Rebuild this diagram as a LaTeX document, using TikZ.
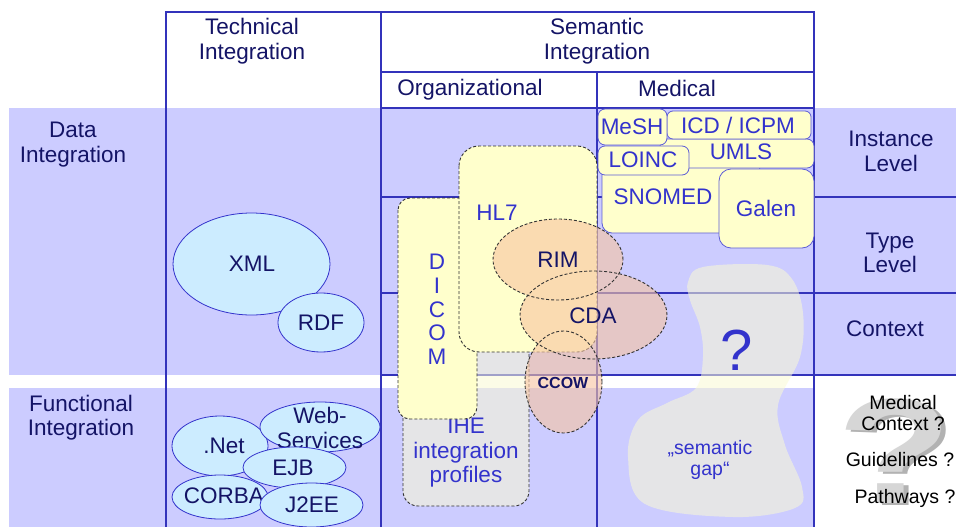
\documentclass[tikz,border=0pt]{standalone}
\usepackage{fontspec}
\setmainfont{Liberation Sans}
\usetikzlibrary{shapes.geometric}
\definecolor{bandblue}{RGB}{204,204,255}
\definecolor{gridblue}{RGB}{51,51,187}
\definecolor{navy}{RGB}{20,20,102}
\definecolor{lblue}{RGB}{51,51,204}
\definecolor{cyanfill}{RGB}{204,236,255}
\definecolor{yfill}{RGB}{255,255,204}
\definecolor{ofill}{RGB}{247,196,160}
\definecolor{gapfill}{RGB}{251,251,213}
\definecolor{dashcol}{RGB}{50,50,50}
\definecolor{qgray}{RGB}{214,214,214}
\definecolor{qshade}{RGB}{178,178,178}
\begin{document}
\begin{tikzpicture}[x=1pt,y=-1pt,
  gridline/.style={gridblue, line width=1.1pt},
  big/.style={font=\fontsize{22.5}{24.5}\selectfont, align=center, inner sep=0pt},
  hdr/.style={big, text=navy},
  lbl/.style={big, text=lblue},
  techell/.style={draw=lblue, fill=cyanfill, line width=0.8pt},
  dashbox/.style={draw=dashcol, dash pattern=on 3pt off 2pt, line width=0.9pt},
  medbox/.style={draw=lblue!80, fill=yfill, line width=0.8pt},
  smalltxt/.style={font=\fontsize{19.5}{21}\selectfont, align=center, inner sep=0pt},
  bigqm/.style={font=\fontsize{150}{150}\selectfont\bfseries, inner sep=0pt},
]
\useasboundingbox (0,0) rectangle (956,527);
\fill[white] (0,0) rectangle (956,527);
\fill[bandblue] (9,108) rectangle (956,375);
\fill[bandblue] (9,388) rectangle (814,527);
% grid
\draw[gridline] (166,527) -- (166,12) -- (814,12) -- (814,527);
\draw[gridline] (381,12) -- (381,527);
\draw[gridline] (381,72) -- (814,72);
\draw[gridline] (381,108) -- (814,108);
\draw[gridline] (597,72) -- (597,527);
\draw[gridline] (381,197) -- (956,197);
\draw[gridline] (381,293) -- (956,293);
\draw[gridline] (381,375) -- (956,375);
% headers
\node[hdr] (tech) at (252,41) {Technical\\Integration};
\node[hdr] (sem) at (597,41) {Semantic\\Integration};
\node[hdr] (org) at (470,89.5) {Organizational};
\node[hdr] (med) at (677,88) {Medical};
\node[hdr] (dataint) at (73,144.5) {Data\\Integration};
\node[hdr] (funcint) at (81,417.5) {Functional\\Integration};
\node[hdr] (inst) at (891,151.5) {Instance\\Level};
\node[hdr] (type) at (890,253) {Type\\Level};
\node[hdr] (ctx) at (885,329) {Context};
% technical
\draw[techell] (251.5,264) ellipse [x radius=78.5pt, y radius=51pt];
\node[hdr] (xml) at (252,264) {XML};
\draw[techell] (321,322.5) ellipse [x radius=43pt, y radius=29.5pt];
\node[hdr] (rdf) at (321,323) {RDF};
\draw[techell] (220,446) ellipse [x radius=48pt, y radius=30pt];
\node[hdr] (net) at (224,446) {.Net};
\draw[techell] (320,427) ellipse [x radius=60pt, y radius=25pt];
\node[hdr] (ws) at (320,428) {Web-\\Services};
\draw[techell] (294.5,467.5) ellipse [x radius=51.5pt, y radius=20.5pt];
\node[hdr] (ejb) at (293,468) {EJB};
\draw[techell] (220,497) ellipse [x radius=48pt, y radius=22pt];
\node[hdr] (corba) at (224,496) {CORBA};
\draw[techell] (311.5,505) ellipse [x radius=51.5pt, y radius=22pt];
\node[hdr] (j2ee) at (312,505) {J2EE};
% IHE and semantic gap (translucent)
\draw[dashbox, fill=gapfill, fill opacity=0.55, rounded corners=15pt] (403,338) rectangle (529,506);
\node[lbl] (ihe) at (466,453) {IHE\\integration\\profiles};
\fill[gapfill, fill opacity=0.55] plot[smooth cycle, tension=0.6] coordinates {(688,282) (703,267) (767,265) (792,279) (803,313) (800,357) (778,405) (785,445) (802,487) (795,508) (733,517) (645,504) (628,457) (638,420) (667,403) (696,388) (703,357) (700,327) (690,300)};
\node[text=lblue, font=\fontsize{58}{58}\selectfont, inner sep=0pt] (qmark) at (737,350) {?};
\node[smalltxt, text=lblue] (gap) at (710,459.5) {„semantic\\gap“};
% DICOM, HL7
\draw[dashbox, fill=yfill, rounded corners=12pt] (398,198) rectangle (477,419);
\node[text=lblue, font=\fontsize{22.5}{23.75}\selectfont, align=center, inner sep=0pt] (dicom) at (437,309.5) {D\\I\\C\\O\\M};
\draw[dashbox, fill=yfill, rounded corners=20pt] (459,146) rectangle (597,352);
\node[lbl] (hl7) at (497,213) {HL7};
% RIM, CDA, CCOW
\begin{scope}[transparency group, opacity=0.6]
\fill[ofill] (558,259.5) ellipse [x radius=65pt, y radius=40.5pt];
\fill[ofill] (593.5,315) ellipse [x radius=73.5pt, y radius=44pt];
\fill[ofill] (563.5,382) ellipse [x radius=38.5pt, y radius=51pt];
\end{scope}
\draw[dashbox] (558,259.5) ellipse [x radius=65pt, y radius=40.5pt];
\draw[dashbox] (593.5,315) ellipse [x radius=73.5pt, y radius=44pt];
\draw[dashbox] (563.5,382) ellipse [x radius=38.5pt, y radius=51pt];
\node[hdr] (rim) at (558,260) {RIM};
\node[hdr] (cda) at (593,316) {CDA};
\node[text=navy, font=\fontsize{16}{16}\selectfont\bfseries, inner sep=0pt] (ccow) at (563,383) {CCOW};
% medical terminologies
\draw[medbox, rounded corners=10pt] (602,160) rectangle (760,233);
\draw[medbox, rounded corners=7pt] (660,139) rectangle (814,168);
\draw[medbox, rounded corners=6pt] (667,111) rectangle (811,139);
\draw[medbox, rounded corners=7pt] (598,146) rectangle (689,175);
\draw[medbox, rounded corners=7pt] (598,109) rectangle (667,145);
\draw[medbox, rounded corners=12pt] (719,169) rectangle (814,248);
\node[lbl] (mesh) at (632,127) {MeSH};
\node[lbl] (icd) at (738,125) {ICD / ICPM};
\node[lbl] (umls) at (741,152) {UMLS};
\node[lbl] (loinc) at (643,160) {LOINC};
\node[lbl] (snomed) at (663,197) {SNOMED};
\node[lbl] (galen) at (766,208) {Galen};
% right column question
\node[bigqm, text=qshade] (bigqs) at (900,453) {\scalebox{1.25}[1]{?}};
\node[bigqm, text=qgray] (bigq) at (895,451) {\scalebox{1.25}[1]{?}};
\node[smalltxt] (medctx) at (903,413) {Medical\\Context ?};
\node[smalltxt] (guide) at (900,460) {Guidelines ?};
\node[smalltxt] (path) at (905,498) {Pathways ?};
\end{tikzpicture}
\end{document}
